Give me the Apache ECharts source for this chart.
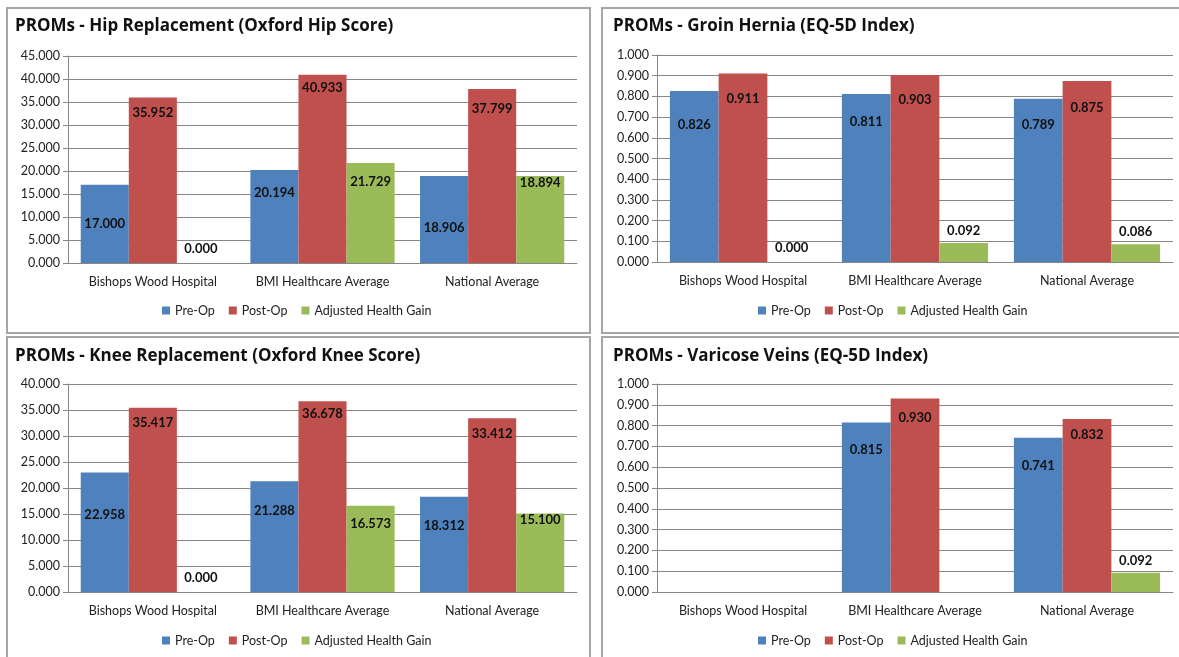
<!DOCTYPE html>
<html>
<head>
<meta charset="utf-8">
<script src="https://cdn.jsdelivr.net/npm/echarts@6/dist/echarts.min.js"></script>
<style>
  html, body { margin: 0; padding: 0; background: #fff; }
  #main { width: 1179px; height: 657px; }
</style>
</head>
<body>
<div id="main"></div>
<script>
// data
var categories = ['Bishops Wood Hospital', 'BMI Healthcare Average', 'National Average'];
var seriesNames = ['Pre-Op', 'Post-Op', 'Adjusted Health Gain'];

var hipPre = [17.000, 20.194, 18.906];
var hipPost = [35.952, 40.933, 37.799];
var hipGain = [0.000, 21.729, 18.894];

var herniaPre = [0.826, 0.811, 0.789];
var herniaPost = [0.911, 0.903, 0.875];
var herniaGain = [0.000, 0.092, 0.086];

var kneePre = [22.958, 21.288, 18.312];
var kneePost = [35.417, 36.678, 33.412];
var kneeGain = [0.000, 16.573, 15.100];

var veinsPre = [null, 0.815, 0.741];
var veinsPost = [null, 0.930, 0.832];
var veinsGain = [null, null, 0.092];

// label placement tweaks (px below bar top), one row per series
var labelGap = {
    hip:    [[33, 16, 45], [9, 7, 13], [8, 12, 0]],
    hernia: [[27, 21, 20], [19, 18, 20], [8, 6, 6]],
    knee:   [[36, 23, 23], [8, 6, 9], [8, 11, 0]],
    veins:  [[0, 21, 21], [0, 13, 9], [0, 0, 6]]
};

var colors = ['#4F81BD', '#C0504D', '#9BBB59'];
var font = 'Lato, "Open Sans", sans-serif';
var titleFont = '"Open Sans", Lato, sans-serif';

var panels = [
    { key: 'hip', title: 'PROMs - Hip Replacement (Oxford Hip Score)', data: [hipPre, hipPost, hipGain],
      max: 45, interval: 5, grid: { left: 68, top: 56, width: 509, height: 207 }, tx: 15, ty: 18, ly: 299, lx: 157 },
    { key: 'hernia', title: 'PROMs - Groin Hernia (EQ-5D Index)', data: [herniaPre, herniaPost, herniaGain],
      max: 1, interval: 0.1, grid: { left: 657, top: 55, width: 516, height: 207 }, tx: 613, ty: 18, ly: 299, lx: 753 },
    { key: 'knee', title: 'PROMs - Knee Replacement (Oxford Knee Score)', data: [kneePre, kneePost, kneeGain],
      max: 40, interval: 5, grid: { left: 68, top: 384, width: 509, height: 208 }, tx: 15, ty: 348, ly: 629, lx: 157 },
    { key: 'veins', title: 'PROMs - Varicose Veins (EQ-5D Index)', data: [veinsPre, veinsPost, veinsGain],
      max: 1, interval: 0.1, grid: { left: 657, top: 384, width: 516, height: 208 }, tx: 613, ty: 348, ly: 629, lx: 753 }
];

var option = {
    animation: false,
    color: colors,
    title: [], legend: [], grid: [], xAxis: [], yAxis: [], series: [],
    graphic: [
        { type: 'rect', shape: { x: 7, y: 8, width: 583, height: 325 }, style: { fill: 'none', stroke: '#a6a6a6', lineWidth: 2 } },
        { type: 'rect', shape: { x: 602, y: 8, width: 600, height: 325 }, style: { fill: 'none', stroke: '#a6a6a6', lineWidth: 2 } },
        { type: 'rect', shape: { x: 7, y: 337, width: 583, height: 340 }, style: { fill: 'none', stroke: '#a6a6a6', lineWidth: 2 } },
        { type: 'rect', shape: { x: 602, y: 337, width: 600, height: 340 }, style: { fill: 'none', stroke: '#a6a6a6', lineWidth: 2 } }
    ]
};

panels.forEach(function (p, i) {
    option.title.push({
        text: p.title, left: p.tx, top: p.ty, padding: 0,
        textStyle: { fontFamily: titleFont, fontWeight: 'bold', fontSize: 17, color: '#111' }
    });
    option.legend.push({
        data: seriesNames, left: p.lx, top: p.ly,
        icon: 'rect', itemWidth: 8, itemHeight: 8, itemGap: 14,
        textStyle: { fontFamily: font, fontSize: 12.5, color: '#222' }
    });
    option.grid.push(p.grid);
    option.xAxis.push({
        type: 'category', gridIndex: i, data: categories,
        axisLine: { lineStyle: { color: '#868686' } },
        axisTick: { length: 5, lineStyle: { color: '#868686' } },
        axisLabel: { interval: 0, margin: 12, fontFamily: font, fontSize: 12.5, color: '#222' }
    });
    option.yAxis.push({
        type: 'value', gridIndex: i, min: 0, max: p.max, interval: p.interval,
        axisLine: { show: true, lineStyle: { color: '#868686' } },
        axisTick: { show: true, length: 5, lineStyle: { color: '#868686' } },
        splitLine: { lineStyle: { color: '#868686' } },
        axisLabel: {
            margin: 8, fontFamily: font, fontSize: 12.5, color: '#222',
            formatter: function (v) { return v.toFixed(3); }
        }
    });
    p.data.forEach(function (vals, s) {
        option.series.push({
            name: seriesNames[s], type: 'bar', xAxisIndex: i, yAxisIndex: i,
            barGap: '0%', barCategoryGap: '15%',
            itemStyle: { color: colors[s] },
            data: vals.map(function (v, c) {
                if (v === null) return null;
                var small = v / p.max < 0.12;
                return {
                    value: v,
                    label: {
                        show: true,
                        position: small ? 'top' : 'insideTop',
                        distance: labelGap[p.key][s][c],
                        formatter: function (d) { return d.value.toFixed(3); },
                        fontFamily: font, fontWeight: 'bold', fontSize: 13, color: '#111'
                    }
                };
            })
        });
    });
});

var myChart = echarts.init(document.getElementById('main'));
myChart.setOption(option);
</script>
</body>
</html>
